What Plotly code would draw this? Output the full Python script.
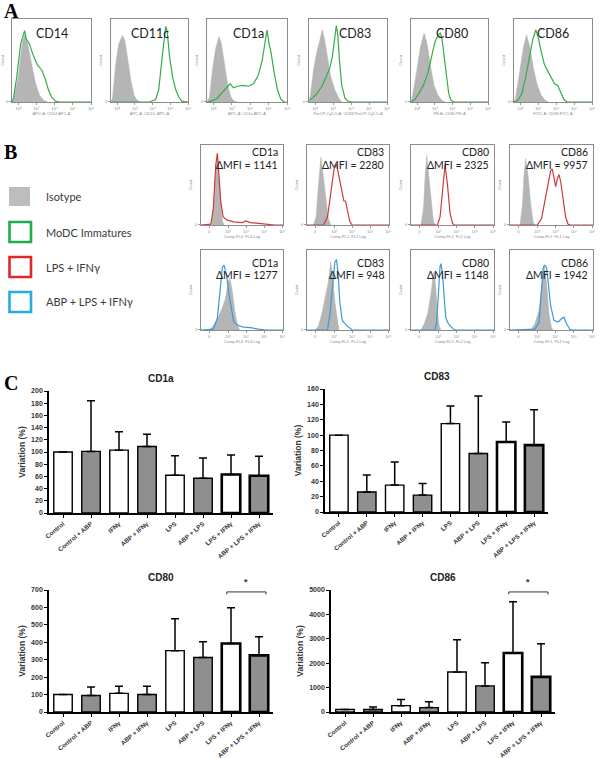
import plotly.graph_objects as go

W, H = 600, 758

# ---------------- Panel C data ----------------
categories = ["Control", "Control + ABP", "IFNγ", "ABP + IFNγ", "LPS",
              "ABP + LPS", "LPS + IFNγ", "ABP + LPS + IFNγ"]
cd1a_mean = [100, 101, 103, 109, 62, 57, 63, 61]
cd1a_upper = [100, 184, 133, 129, 94, 90, 95, 93]
cd83_mean = [100, 26, 35, 22, 115, 76, 91, 87]
cd83_upper = [100, 48, 65, 37, 138, 151, 117, 133]
cd80_mean = [100, 95, 107, 100, 352, 313, 393, 325]
cd80_upper = [100, 143, 148, 148, 535, 403, 598, 432]
cd86_mean = [100, 100, 260, 180, 1640, 1070, 2420, 1440]
cd86_upper = [100, 200, 510, 420, 2960, 2020, 4520, 2800]

# ---------------- Panel A histograms (x: fraction of log axis, y: fraction of max count) ----------------
A_CD14_ISO = [(0, 0), (0.02, 0.03), (0.08, 0.3), (0.13, 0.72), (0.16, 0.81), (0.2, 0.7), (0.25, 0.45),
              (0.3, 0.22), (0.35, 0.08), (0.4, 0.02), (0.45, 0)]
A_CD14_MO = [(0, 0), (0.02, 0.05), (0.06, 0.3), (0.11, 0.7), (0.16, 0.86), (0.18, 0.76), (0.22, 0.7),
             (0.27, 0.56), (0.32, 0.45), (0.38, 0.38), (0.42, 0.28), (0.46, 0.15), (0.5, 0.06),
             (0.55, 0.01), (0.6, 0), (1, 0)]
A_CD11C_ISO = [(0, 0), (0.02, 0.05), (0.06, 0.45), (0.1, 0.7), (0.15, 0.8), (0.18, 0.74), (0.22, 0.5),
               (0.26, 0.25), (0.3, 0.08), (0.34, 0.02), (0.38, 0)]
A_CD11C_MO = [(0, 0), (0.5, 0), (0.58, 0.03), (0.62, 0.15), (0.66, 0.5), (0.69, 0.8), (0.71, 0.91),
              (0.73, 0.85), (0.76, 0.55), (0.8, 0.3), (0.84, 0.15), (0.88, 0.06), (0.92, 0.01), (1, 0)]
A_CD1A_ISO = [(0, 0), (0.03, 0.05), (0.07, 0.4), (0.11, 0.65), (0.15, 0.79), (0.18, 0.7), (0.22, 0.45),
              (0.26, 0.2), (0.3, 0.06), (0.34, 0.01), (0.38, 0)]
A_CD1A_MO = [(0, 0), (0.05, 0.01), (0.12, 0.04), (0.2, 0.12), (0.25, 0.18), (0.29, 0.22), (0.33, 0.17),
             (0.38, 0.19), (0.45, 0.2), (0.52, 0.19), (0.58, 0.22), (0.64, 0.32), (0.69, 0.5),
             (0.73, 0.75), (0.75, 0.87), (0.78, 0.68), (0.8, 0.6), (0.84, 0.35), (0.88, 0.15),
             (0.92, 0.04), (0.96, 0), (1, 0)]
A_CD83_ISO = [(0, 0), (0.02, 0.1), (0.06, 0.4), (0.1, 0.6), (0.14, 0.75), (0.17, 0.87), (0.2, 0.75),
              (0.24, 0.5), (0.28, 0.3), (0.33, 0.15), (0.38, 0.05), (0.42, 0)]
A_CD83_MO = [(0, 0.02), (0.05, 0.05), (0.1, 0.1), (0.16, 0.18), (0.22, 0.3), (0.27, 0.42), (0.3, 0.55),
             (0.33, 0.8), (0.35, 0.92), (0.37, 0.8), (0.39, 0.5), (0.42, 0.2), (0.46, 0.05),
             (0.5, 0.01), (0.55, 0), (1, 0)]
A_CD80_ISO = [(0, 0), (0.02, 0.08), (0.07, 0.35), (0.12, 0.65), (0.17, 0.83), (0.21, 0.7), (0.26, 0.4),
              (0.3, 0.2), (0.35, 0.08), (0.4, 0.02), (0.44, 0)]
A_CD80_MO = [(0, 0), (0.05, 0.03), (0.1, 0.1), (0.16, 0.2), (0.22, 0.35), (0.27, 0.55), (0.31, 0.72),
             (0.35, 0.8), (0.38, 0.83), (0.4, 0.78), (0.43, 0.55), (0.46, 0.3), (0.49, 0.1),
             (0.52, 0.02), (0.56, 0), (1, 0)]
A_CD86_ISO = [(0, 0), (0.02, 0.05), (0.07, 0.35), (0.12, 0.65), (0.16, 0.81), (0.2, 0.68), (0.25, 0.4),
              (0.3, 0.2), (0.35, 0.08), (0.4, 0.02), (0.44, 0)]
A_CD86_MO = [(0, 0), (0.05, 0.02), (0.1, 0.1), (0.15, 0.3), (0.2, 0.55), (0.24, 0.75), (0.28, 0.87),
             (0.31, 0.78), (0.35, 0.6), (0.39, 0.45), (0.44, 0.36), (0.48, 0.28), (0.52, 0.22),
             (0.56, 0.2), (0.6, 0.12), (0.64, 0.03), (0.68, 0), (1, 0)]

# ---------------- Panel B histograms ----------------
B1_CD1A_ISO = [(0.13, 0), (0.16, 0.3), (0.18, 0.7), (0.2, 0.82), (0.22, 0.6), (0.24, 0.25), (0.26, 0.05), (0.28, 0)]
B1_CD1A_LPS = [(0, 0), (0.12, 0.01), (0.15, 0.2), (0.18, 0.75), (0.2, 0.9), (0.22, 0.65), (0.24, 0.3),
               (0.27, 0.1), (0.32, 0.06), (0.4, 0.04), (0.5, 0.03), (0.55, 0.05), (0.6, 0.03),
               (0.7, 0.02), (0.8, 0.01), (0.9, 0), (1, 0)]
B1_CD83_ISO = [(0.08, 0), (0.11, 0.1), (0.14, 0.5), (0.17, 0.85), (0.2, 0.6), (0.23, 0.3), (0.26, 0.08), (0.29, 0)]
B1_CD83_LPS = [(0, 0), (0.2, 0), (0.25, 0.1), (0.29, 0.4), (0.33, 0.7), (0.36, 0.76), (0.39, 0.6),
               (0.42, 0.42), (0.45, 0.3), (0.47, 0.3), (0.49, 0.2), (0.52, 0.05), (0.55, 0), (1, 0)]
B1_CD80_ISO = [(0.12, 0), (0.15, 0.2), (0.17, 0.6), (0.19, 0.87), (0.21, 0.65), (0.24, 0.3), (0.27, 0.05), (0.29, 0)]
B1_CD80_LPS = [(0, 0), (0.32, 0), (0.35, 0.1), (0.38, 0.45), (0.41, 0.75), (0.44, 0.5), (0.47, 0.15),
               (0.5, 0.02), (0.52, 0), (1, 0)]
B1_CD86_ISO = [(0.12, 0), (0.15, 0.25), (0.17, 0.65), (0.19, 0.83), (0.22, 0.6), (0.25, 0.25), (0.28, 0.03), (0.3, 0)]
B1_CD86_LPS = [(0, 0), (0.33, 0), (0.38, 0.08), (0.42, 0.3), (0.46, 0.55), (0.49, 0.68), (0.51, 0.7),
               (0.53, 0.6), (0.55, 0.48), (0.57, 0.58), (0.59, 0.63), (0.61, 0.55), (0.64, 0.3),
               (0.67, 0.1), (0.7, 0.01), (0.73, 0), (1, 0)]
B2_CD1A_ISO = [(0.1, 0), (0.15, 0.05), (0.2, 0.14), (0.25, 0.25), (0.3, 0.4), (0.33, 0.6), (0.35, 0.65),
               (0.38, 0.5), (0.41, 0.25), (0.44, 0.08), (0.47, 0)]
B2_CD1A_ABP = [(0, 0), (0.15, 0.01), (0.2, 0.15), (0.23, 0.5), (0.26, 0.78), (0.28, 0.81), (0.31, 0.7),
               (0.34, 0.45), (0.37, 0.25), (0.4, 0.1), (0.45, 0.06), (0.5, 0.04), (0.6, 0.03),
               (0.7, 0.01), (0.8, 0), (1, 0)]
B2_CD83_ISO = [(0.1, 0), (0.14, 0.05), (0.18, 0.2), (0.22, 0.4), (0.26, 0.6), (0.29, 0.85), (0.31, 0.7),
               (0.34, 0.35), (0.37, 0.1), (0.39, 0)]
B2_CD83_ABP = [(0, 0), (0.25, 0), (0.28, 0.2), (0.31, 0.55), (0.34, 0.85), (0.36, 0.88), (0.38, 0.7),
               (0.4, 0.35), (0.43, 0.12), (0.47, 0.07), (0.52, 0.02), (0.55, 0), (1, 0)]
B2_CD80_ISO = [(0.12, 0), (0.16, 0.08), (0.2, 0.2), (0.24, 0.45), (0.27, 0.7), (0.28, 0.73), (0.3, 0.5),
               (0.32, 0.2), (0.34, 0.05), (0.36, 0)]
B2_CD80_ABP = [(0, 0), (0.29, 0), (0.31, 0.1), (0.33, 0.5), (0.35, 0.8), (0.36, 0.83), (0.38, 0.7),
               (0.4, 0.4), (0.42, 0.15), (0.45, 0.08), (0.5, 0.02), (0.53, 0), (1, 0)]
B2_CD86_ISO = [(0.25, 0), (0.3, 0.08), (0.35, 0.25), (0.39, 0.6), (0.41, 0.81), (0.44, 0.6), (0.47, 0.2),
               (0.5, 0.03), (0.52, 0)]
B2_CD86_ABP = [(0, 0), (0.3, 0.01), (0.35, 0.1), (0.38, 0.45), (0.4, 0.78), (0.42, 0.81), (0.44, 0.78),
               (0.46, 0.6), (0.49, 0.3), (0.53, 0.12), (0.58, 0.1), (0.62, 0.14), (0.65, 0.16),
               (0.68, 0.08), (0.72, 0.01), (0.75, 0), (1, 0)]

A_markers = ["CD14", "CD11c", "CD1a", "CD83", "CD80", "CD86"]
A_xtitles = ["APC-A: CD14 APC-A", "APC-A: CD11c APC-A", "APC-A: CD1a APC-A",
             "PerCP-Cy5-5-A: CD83 PerCP-Cy5-5-A", "PE-A: CD80 PE-A", "FITC-A: CD86 FITC-A"]
B_markers = ["CD1a", "CD83", "CD80", "CD86"]
B_xtitles = ["Comp-FL4: FL4 Log", "Comp-FL2: FL2 Log", "Comp-FL2: FL2 Log", "Comp-FL1: FL1 Log"]
B1_dmfi = [1141, 2280, 2325, 9957]
B2_dmfi = [1277, 948, 1148, 1942]
legend_labels = ["Isotype", "MoDC Immatures", "LPS + IFNγ", "ABP + LPS + IFNγ"]

GREEN = "#35ad48"
RED = "#cf3a3a"
BLUE = "#3a9ad6"
ISO = "#b5b5b5"
GREYBAR = "#8f8f8f"

fig = go.Figure()
layout = {}
annotations = []
shapes = []


def names(i):
    return ("x" if i == 1 else f"x{i}", "y" if i == 1 else f"y{i}",
            "xaxis" if i == 1 else f"xaxis{i}", "yaxis" if i == 1 else f"yaxis{i}")


def dom(x0, x1, y0, y1):
    return [x0 / W, x1 / W], [1 - y1 / H, 1 - y0 / H]


def px(x):
    return x / W


def py(y):
    return 1 - y / H


tiny = dict(size=4, color="#8a8a8a", family="Liberation Sans")


def hist_axes(i, box, ticktext, tickvals, xtitle):
    xn, yn, xa, ya = names(i)
    xd, yd = dom(*box)
    layout[xa] = dict(domain=xd, anchor=yn, range=[0, 1], showline=True, mirror=True,
                      linecolor="#8c8c8c", linewidth=1, showgrid=False, zeroline=False,
                      ticks="outside", ticklen=2, tickcolor="#999", tickvals=tickvals,
                      ticktext=ticktext, tickfont=tiny,
                      title=dict(text=xtitle, font=tiny, standoff=1), automargin=False)
    layout[ya] = dict(domain=yd, anchor=xn, range=[0, 1], showline=True, mirror=True,
                      linecolor="#8c8c8c", linewidth=1, showgrid=False, zeroline=False,
                      ticks="outside", ticklen=2, tickcolor="#999", tickvals=[0.01],
                      ticktext=["0"], tickfont=tiny,
                      title=dict(text="Count", font=tiny, standoff=2), automargin=False)
    return xn, yn


def add_hist(i, iso, cur, color, lw):
    xn, yn, _, _ = names(i)
    fig.add_trace(go.Scatter(x=[p[0] for p in iso], y=[p[1] for p in iso], mode="lines",
                             fill="tozeroy", fillcolor=ISO, line=dict(color=ISO, width=0.5),
                             xaxis=xn, yaxis=yn, showlegend=False, hoverinfo="skip"))
    fig.add_trace(go.Scatter(x=[p[0] for p in cur], y=[p[1] for p in cur], mode="lines",
                             line=dict(color=color, width=lw),
                             xaxis=xn, yaxis=yn, showlegend=False, hoverinfo="skip"))


def label(text, x, y, size, family="Lato", color="#222", xanchor="center", weight="normal",
          yanchor="middle", xref="paper"):
    annotations.append(dict(text=text, x=x, y=y, xref=xref, yref="paper", xanchor=xanchor,
                            yanchor=yanchor, showarrow=False,
                            font=dict(size=size, family=family, color=color, weight=weight)))


# ---------- Panel A ----------
A_boxes = [(12, 91), (111, 188), (207, 287), (309, 387), (411, 488), (514, 592)]
A_label_x = [52, 150, 248, 355, 452, 553]
A_data = [(A_CD14_ISO, A_CD14_MO), (A_CD11C_ISO, A_CD11C_MO), (A_CD1A_ISO, A_CD1A_MO),
          (A_CD83_ISO, A_CD83_MO), (A_CD80_ISO, A_CD80_MO), (A_CD86_ISO, A_CD86_MO)]
A_ticks = ["10²", "10³", "10⁴", "10⁵", "10⁶"]
idx = 1
for k, (bx, (iso, cur)) in enumerate(zip(A_boxes, A_data)):
    hist_axes(idx, (bx[0], bx[1], 19, 102), A_ticks, [0.08, 0.31, 0.54, 0.77, 1.0], A_xtitles[k])
    add_hist(idx, iso, cur, GREEN, 1.2)
    label(A_markers[k], px(A_label_x[k]), py(34), 12.5)
    idx += 1

# ---------- Panel B ----------
B_boxes = [(201, 283), (307, 389), (411, 494), (510, 593)]
B1_data = [(B1_CD1A_ISO, B1_CD1A_LPS), (B1_CD83_ISO, B1_CD83_LPS),
           (B1_CD80_ISO, B1_CD80_LPS), (B1_CD86_ISO, B1_CD86_LPS)]
B2_data = [(B2_CD1A_ISO, B2_CD1A_ABP), (B2_CD83_ISO, B2_CD83_ABP),
           (B2_CD80_ISO, B2_CD80_ABP), (B2_CD86_ISO, B2_CD86_ABP)]
B_ticks = ["0", "10³", "10⁴", "10⁵", "10⁶"]
for data, dm, color, (ty0, ty1), (l1, l2) in [
        (B1_data, B1_dmfi, RED, (145, 225), (152, 165)),
        (B2_data, B2_dmfi, BLUE, (250, 330), (263, 275))]:
    for k, (bx, (iso, cur)) in enumerate(zip(B_boxes, data)):
        hist_axes(idx, (bx[0], bx[1], ty0, ty1), B_ticks, [0.1, 0.33, 0.55, 0.77, 0.99], B_xtitles[k])
        add_hist(idx, iso, cur, color, 1.2)
        label(B_markers[k], px(bx[1] - 3), py(l1), 10.5, xanchor="right")
        label(f"ΔMFI = {dm[k]}", px(bx[1] - 3), py(l2), 10.5, xanchor="right")
        idx += 1

# Legend of panel B
leg_y = [(187, 206), (222, 242), (257, 277), (292, 312)]
leg_col = [None, "#1fae4b", "#e2262b", "#27a9e1"]
for k, (y0, y1) in enumerate(leg_y):
    if k == 0:
        shapes.append(dict(type="rect", xref="paper", yref="paper", x0=px(9), x1=px(30),
                           y0=py(y1), y1=py(y0), fillcolor="#bdbdbd", line=dict(width=0)))
    else:
        shapes.append(dict(type="rect", xref="paper", yref="paper", x0=px(9.5), x1=px(31),
                           y0=py(y1), y1=py(y0), fillcolor="rgba(0,0,0,0)",
                           line=dict(color=leg_col[k], width=2.6)))
    label(legend_labels[k], px(44), py((y0 + y1) / 2), 11, color="#3a3a3a", xanchor="left")

# ---------- Panel C ----------
bar_specs = [
    ("CD1a", cd1a_mean, cd1a_upper, (49, 273, 391, 513), 200, 20, None),
    ("CD83", cd83_mean, cd83_upper, (325, 548, 389, 512), 160, 20, None),
    ("CD80", cd80_mean, cd80_upper, (49, 273, 590, 712), 700, 100, 689),
    ("CD86", cd86_mean, cd86_upper, (331, 555, 590, 712), 5000, 1000, 4920),
]
bold = dict(family="Liberation Sans", color="#333", weight="bold")
positions = list(range(len(categories)))
for title, mean, upper, box, ymax, dtick, sig in bar_specs:
    xn, yn, xa, ya = names(idx)
    xd, yd = dom(*box)
    err = [u - m for u, m in zip(upper, mean)]
    fig.add_trace(go.Bar(x=positions, y=mean, width=0.66,
                         marker=dict(color=["white", GREYBAR] * 4,
                                     line=dict(color="black", width=[1.4] * 6 + [2.6, 2.6])),
                         error_y=dict(type="data", array=err, arrayminus=[0] * 8, symmetric=False,
                                      color="black", thickness=1.5, width=4),
                         xaxis=xn, yaxis=yn, showlegend=False))
    layout[xa] = dict(domain=xd, anchor=yn, range=[-0.5, 7.5], tickvals=positions,
                      ticktext=categories, showline=True,
                      linecolor="black", linewidth=1.6, ticks="outside", ticklen=3, tickwidth=1.2,
                      tickcolor="black", tickangle=-40, tickfont=dict(size=6.3, **bold),
                      showgrid=False, zeroline=False, automargin=False)
    layout[ya] = dict(domain=yd, anchor=xn, range=[0, ymax], dtick=dtick, showline=True,
                      linecolor="black", linewidth=1.6, ticks="outside", ticklen=3, tickwidth=1.2,
                      tickcolor="black", tickfont=dict(size=7, **bold), showgrid=False,
                      zeroline=False, automargin=False,
                      title=dict(text="Variation (%)", font=dict(size=8.5, **bold), standoff=4))
    label(title, px((box[0] + box[1]) / 2), py(box[2] - 13), 10, family="Liberation Sans",
          weight="bold")
    if sig is not None:
        tick = ymax * 0.02
        fig.add_trace(go.Scatter(x=[5.85, 5.85, 7.25, 7.25], y=[sig - tick, sig, sig, sig - tick],
                                 mode="lines", line=dict(color="#333", width=1), cliponaxis=False,
                                 xaxis=xn, yaxis=yn, showlegend=False, hoverinfo="skip"))
        label("*", 6.55, py(box[2] - 1), 9, family="Liberation Sans", color="#333",
              weight="bold", yanchor="bottom", xref=xn)
    idx += 1

# Panel letters
for letter, y in [("A", 11), ("B", 152), ("C", 383)]:
    label(letter, px(2), py(y), 20, family="Liberation Serif", color="black",
          xanchor="left", weight="bold")

layout.update(dict(width=W, height=H, margin=dict(l=0, r=0, t=0, b=0),
                   paper_bgcolor="white", plot_bgcolor="white",
                   annotations=annotations, shapes=shapes))
fig.update_layout(layout)
fig.write_html("out.html", config={"displayModeBar": False},
               post_script="document.body.style.margin='0px';")
